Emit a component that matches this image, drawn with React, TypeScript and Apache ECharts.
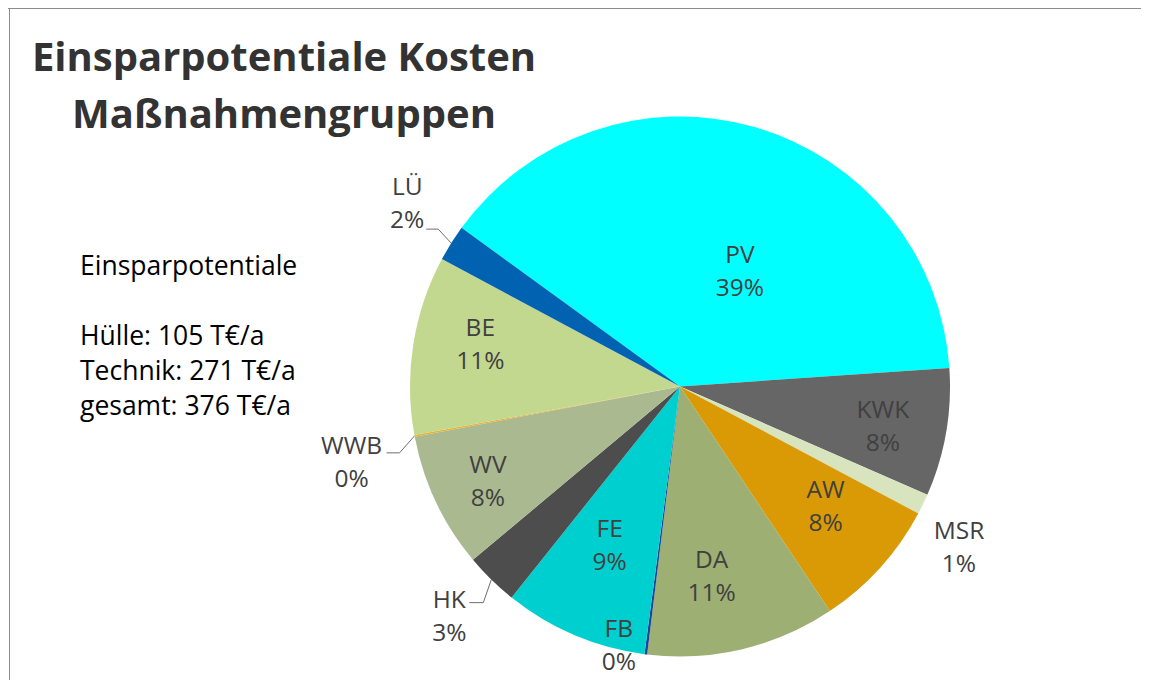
import React, { useEffect, useRef } from "react";
import * as echarts from "echarts";

// ---- data ----
const categories = ["PV", "KWK", "MSR", "AW", "DA", "FB", "FE", "HK", "WV", "WWB", "BE", "LÜ"];
const savings = [146.3, 28.8, 4.6, 29.5, 42.5, 0.6, 32.4, 12, 30.5, 0.4, 40.2, 8.2]; // T€/a
const titleLines = ["Einsparpotentiale Kosten", "Maßnahmengruppen"];
const noteLines = ["Einsparpotentiale", "", "Hülle: 105 T€/a", "Technik: 271 T€/a", "gesamt: 376 T€/a"];

// ---- styles ----
const sliceColors: Record<string, string> = {
  PV: "#00FFFF",
  KWK: "#666666",
  MSR: "#D7E4BD",
  AW: "#D99A06",
  DA: "#9DAF73",
  FB: "#17449A",
  FE: "#00CFCF",
  HK: "#4D4D4D",
  WV: "#AAB990",
  WWB: "#E6B43C",
  BE: "#C3D88F",
  "LÜ": "#0262B2",
};
// inside labels: radius ratio and angular turn (deg) relative to slice middle
const insideStyle: Record<string, { ratio: number; turn: number }> = {
  PV: { ratio: 0.485, turn: -11.2 },
  KWK: { ratio: 0.765, turn: -0.9 },
  AW: { ratio: 0.696, turn: 3 },
  DA: { ratio: 0.708, turn: -3.8 },
  FE: { ratio: 0.638, turn: -1 },
  WV: { ratio: 0.791, turn: 0.6 },
  BE: { ratio: 0.757, turn: -3.4 },
};
// outside labels: leader line (diagonal then horizontal run) and text offset from line end
const outsideStyle: Record<string, { diag: [number, number]; run: number; text: [number, number]; line: boolean }> = {
  "LÜ": { diag: [-13, -14], run: -12, text: [-19, -27], line: true },
  WWB: { diag: [-15, 17], run: -13, text: [-35, 8], line: true },
  HK: { diag: [-8, 23], run: -14, text: [-20, 12], line: true },
  FB: { diag: [0, 0], run: 0, text: [-27, -10], line: false },
  MSR: { diag: [0, 0], run: 0, text: [36, 42], line: false },
};

const W = 1133;
const H = 672;
const CX = 672;
const CY = 378.5;
const R = 270;
const START = 144;
const FONT = "'Open Sans', 'Noto Sans', sans-serif";

export default function App() {
  const ref = useRef<HTMLDivElement>(null);
  useEffect(() => {
    if (!ref.current) return;
    const chart = echarts.init(ref.current, undefined, { renderer: "svg" });
    const total = savings.reduce((s, v) => s + v, 0);
    let a = START;
    const mids = savings.map((v) => {
      const span = (v / total) * 360;
      const m = a - span / 2;
      a -= span;
      return m;
    });
    const polar = (deg: number, rad: number) => [
      CX + rad * Math.cos((deg * Math.PI) / 180),
      CY - rad * Math.sin((deg * Math.PI) / 180),
    ];

    const data = categories.map((name, i) => {
      const outside = !!outsideStyle[name];
      return {
        name,
        value: savings[i],
        itemStyle: { color: sliceColors[name] },
        label: { position: outside ? "outside" : "inside" },
        labelLine: { show: outside && outsideStyle[name].line },
      };
    });

    chart.setOption({
      animation: false,
      graphic: [
        { type: "line", shape: { x1: 0, y1: 0.5, x2: W, y2: 0.5 }, style: { stroke: "#8c8c8c", lineWidth: 1 } },
        { type: "line", shape: { x1: 1.5, y1: 0, x2: 1.5, y2: H }, style: { stroke: "#8c8c8c", lineWidth: 1 } },
        {
          type: "text",
          x: 276,
          y: 19,
          style: {
            text: titleLines.join("\n"),
            fontFamily: FONT,
            fontWeight: "bold",
            fontSize: 40,
            lineHeight: 57,
            fill: "#333333",
            align: "center",
            verticalAlign: "top",
          },
        },
        {
          type: "text",
          x: 72,
          y: 239.5,
          style: {
            text: noteLines.join("\n"),
            fontFamily: FONT,
            fontSize: 26.5,
            lineHeight: 35,
            fill: "#000000",
            align: "left",
            verticalAlign: "top",
          },
        },
      ],
      series: [
        {
          type: "pie",
          center: [CX, CY],
          radius: R,
          startAngle: START,
          clockwise: true,
          avoidLabelOverlap: false,
          silent: true,
          itemStyle: { borderWidth: 0 },
          label: {
            show: true,
            fontFamily: FONT,
            fontSize: 24.5,
            lineHeight: 33,
            color: "#404040",
            formatter: (p: any) => `${p.name}\n${Math.round(p.percent)}%`,
          },
          labelLine: { show: false, length: 15, length2: 12, lineStyle: { color: "#6e6e6e", width: 1 } },
          labelLayout: (params: any) => {
            const i = params.dataIndex;
            const name = categories[i];
            const ins = insideStyle[name];
            if (ins) {
              const [x, y] = polar(mids[i] + ins.turn, ins.ratio * R);
              return { x, y, align: "center", verticalAlign: "middle" };
            }
            const o = outsideStyle[name];
            const p0 = polar(mids[i], R);
            const p1 = [p0[0] + o.diag[0], p0[1] + o.diag[1]];
            const p2 = [p1[0] + o.run, p1[1]];
            const res: any = {
              x: p2[0] + o.text[0],
              y: p2[1] + o.text[1],
              align: "center",
              verticalAlign: "middle",
            };
            if (o.line) res.labelLinePoints = [p0, p1, p2];
            return res;
          },
          data,
        },
      ],
    });
    return () => chart.dispose();
  }, []);
  return <div ref={ref} style={{ width: W, height: H }} />;
}
